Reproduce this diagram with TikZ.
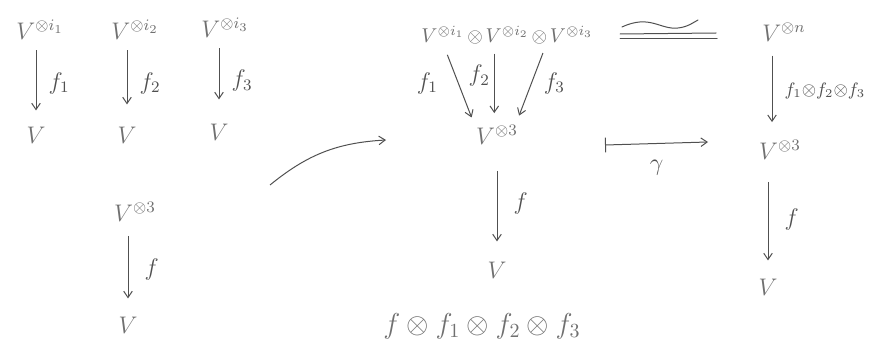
\documentclass[tikz,border=0pt]{standalone}
\usepackage{amsmath,amssymb}
\usetikzlibrary{arrows.meta,positioning}
\definecolor{Pencil}{HTML}{505050}
\definecolor{Lead}{HTML}{707070}
\tikzset{
  >={Straight Barb[length=1.1mm,width=1.5mm]},
  obj/.style={font=\large,text=Lead,inner sep=1pt},
  row/.style={obj,font=\normalsize,inner sep=.5pt},
  map/.style={->,line width=.5pt,draw=Pencil},
  lab/.style={font=\large,text=Pencil,inner sep=2pt},
  stroke/.style={line width=.5pt,draw=Pencil,line cap=round}
}
\begin{document}
\begin{tikzpicture}[x=.5pt,y=-.5pt]
  \useasboundingbox (0,0) rectangle (877,353);

  % three separate maps
  \node[obj] (s1) at (40,30) {$V^{\otimes i_1}$};
  \node[obj] (v1) at (36,135) {$V$};
  \node[obj] (s2) at (135,30) {$V^{\otimes i_2}$};
  \node[obj] (v2) at (127,135) {$V$};
  \node[obj] (s3) at (225,28) {$V^{\otimes i_3}$};
  \node[obj] (v3) at (219,132) {$V$};
  \draw[map,shorten <=4pt,shorten >=7pt] (v1 |- s1.south) -- node[lab,right,xshift=4pt] {$f_1$} (v1.north);
  \draw[map,shorten <=4pt,shorten >=10pt] (v2 |- s2.south) -- node[lab,right,xshift=4pt] {$f_2$} (v2.north);
  \draw[map,shorten <=4pt,shorten >=11pt] (v3 |- s3.south) -- node[lab,right,xshift=4pt] {$f_3$} (v3.north);

  \node[obj] (c) at (135,212) {$V^{\otimes 3}$};
  \node[obj] (cv) at (128,325) {$V$};
  \draw[map,shorten <=6pt,shorten >=8pt] (cv |- c.south) -- node[lab,right,xshift=6pt] {$f$} (cv.north);

  % curved arrow between the two pictures
  \coordinate (from) at (270,185);
  \coordinate (to) at (386,140);
  \draw[map] (from) to[bend left=18] (to);

  % composite
  \node[row] (t1) at (443,34) {$V^{\otimes i_1}$};
  \node[row,anchor=base west] (o1) at (t1.base east) {$\otimes$};
  \node[row,anchor=base west] (t2) at (o1.base east) {$V^{\otimes i_2}$};
  \node[row,anchor=base west] (o2) at (t2.base east) {$\otimes$};
  \node[row,anchor=base west] (t3) at (o2.base east) {$V^{\otimes i_3}$};
  \node[obj] (m) at (497,135) {$V^{\otimes 3}$};
  \draw[map,shorten <=6pt,shorten >=3pt] (t1.south) -- node[lab,left,xshift=-8pt] {$f_1$} (m.north west);
  \draw[map,shorten <=5pt,shorten >=5pt] ([xshift=5pt]t2.south west) -- node[lab,left,pos=.4] {$f_2$} ([xshift=5pt]t2.south west |- m.north);
  \draw[map,shorten <=5pt,shorten >=4pt] ([xshift=-1pt]t3.south west) -- node[lab,right,xshift=4pt] {$f_3$} ([xshift=-2pt]m.north east);

  \node[obj] (mv) at (497,270) {$V$};
  \draw[map,shorten <=12pt,shorten >=9pt] (mv |- m.south) -- node[lab,right,xshift=6pt] {$f$} (mv.north);
  \node[obj,font=\Large] (prod) at (482,326) {$f\otimes f_1\otimes f_2\otimes f_3$};

  % equivalence sign
  \draw[stroke] (622,27) .. controls (650,14) and (660,30) .. (678,28) .. controls (688,27) and (694,22) .. (698,20);
  \draw[stroke] (620,34) -- (716,33);
  \draw[stroke] (620,39) -- (717,39);

  % gamma
  \coordinate (g0) at (605,145);
  \coordinate (g1) at (708,142);
  \draw[map,{Bar[width=2.6mm]}->] (g0) -- node[lab,below=6pt] {$\gamma$} (g1);

  % reindexed map
  \node[obj] (n) at (784,32) {$V^{\otimes n}$};
  \node[obj] (r) at (780,150) {$V^{\otimes 3}$};
  \node[obj] (rv) at (768,287) {$V$};
  \draw[map,shorten <=6pt,shorten >=8pt] ([xshift=-6pt]n.south) -- node[lab,right,xshift=4pt,font=\small] {$f_1{\otimes}f_2{\otimes}f_3$} ([xshift=-6pt]n.south |- r.north);
  \draw[map,shorten <=10pt,shorten >=8pt] ([xshift=-6pt]r.south) -- node[lab,right,xshift=6pt] {$f$} (rv.north);
\end{tikzpicture}
\end{document}
